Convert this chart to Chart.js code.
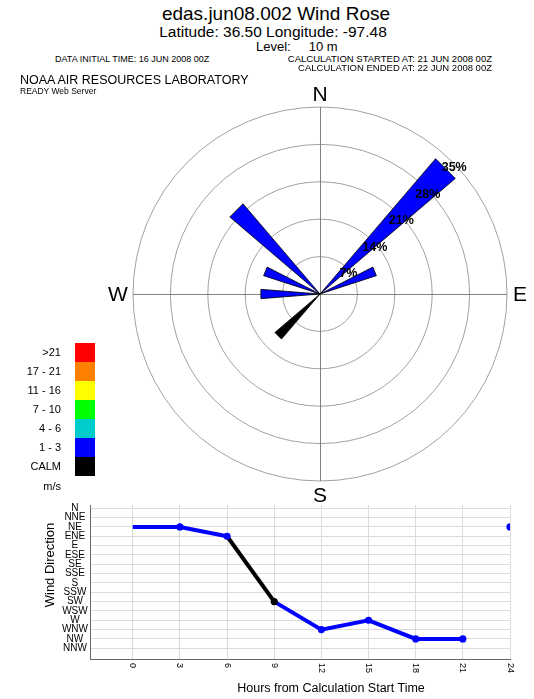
<!DOCTYPE html>
<html><head><meta charset="utf-8">
<script src="https://cdn.jsdelivr.net/npm/chart.js@4.4.1/dist/chart.umd.min.js"></script>
<style>
body{margin:0;width:534px;height:699px;position:relative;background:#fff;font-family:"Liberation Sans",Arial,sans-serif;overflow:hidden}
.t{position:absolute;white-space:pre;color:#000;line-height:1}
.c{transform:translate(-50%,-50%)}
.l{transform:translateY(-50%)}
canvas{position:absolute}
.box{position:absolute;left:75px;width:20px}
</style></head><body>
<canvas id="rose" width="534" height="450" style="left:0;top:70px"></canvas>
<canvas id="series" width="534" height="204" style="left:0;top:495px"></canvas>

<div class="t c" style="left:276px;top:13px;font-size:19px">edas.jun08.002 Wind Rose</div>
<div class="t c" style="left:273px;top:32px;font-size:15.5px">Latitude: 36.50 Longitude: -97.48</div>
<div class="t l" style="left:256px;top:46px;font-size:13px">Level:     10 m</div>
<div class="t l" style="left:55px;top:59px;font-size:9px">DATA INITIAL TIME: 16 JUN 2008 00Z</div>
<div class="t l" style="right:42px;top:59px;font-size:9.5px;text-align:right">CALCULATION STARTED AT: 21 JUN 2008 00Z</div>
<div class="t l" style="right:42px;top:68px;font-size:9.5px;text-align:right">CALCULATION ENDED AT: 22 JUN 2008 00Z</div>
<div class="t l" style="left:20px;top:80px;font-size:12.5px">NOAA AIR RESOURCES LABORATORY</div>
<div class="t l" style="left:20px;top:91px;font-size:8.5px">READY Web Server</div>

<div id="legend"></div>

<div class="t c" style="left:49px;top:565px;font-size:13px;transform:translate(-50%,-50%) rotate(-90deg)">Wind Direction</div>
<div class="t c" style="left:331px;top:688px;font-size:12.5px">Hours from Calculation Start Time</div>

<script>
// ---- data ----
const directions = ['N','NNE','NE','ENE','E','ESE','SE','SSE','S','SSW','SW','WSW','W','WNW','NW','NNW'];
const rosePercent = [0,0,33.3,11.1,0,0,0,0,0,0,11.1,0,11.1,11.1,22.2,0];
const roseClass = ['','','1 - 3','1 - 3','','','','','','','CALM','','1 - 3','1 - 3','1 - 3',''];
const speedClasses = ['>21','17 - 21','11 - 16','7 - 10','4 - 6','1 - 3','CALM'];
const speedColors = ['#ff0000','#ff8000','#ffff00','#00ff00','#00cccc','#0000ff','#000000'];
const speedUnit = 'm/s';
const ringTicks = [7,14,21,28,35];
const compass = ['N','E','S','W'];

const hours = [0,3,6,9,12,15,18,21];
const hourDirs = ['NE','NE','ENE','SW','WNW','W','NW','NW'];
const hourClass = ['1 - 3','1 - 3','1 - 3','CALM','1 - 3','1 - 3','1 - 3','1 - 3'];
const endHours = [24];
const endDirs = ['NE'];
const endClass = ['1 - 3'];
const hourTicks = [0,3,6,9,12,15,18,21,24];

const FONT = '"Liberation Sans", Arial, sans-serif';
const colorOf = c => speedColors[speedClasses.indexOf(c)];

// ---- legend ----
(function(){
  const lg = document.getElementById('legend');
  const top0 = 342.5, h = 19.05;
  speedClasses.forEach((c,i)=>{
    const b = document.createElement('div');
    b.className='box';
    b.style.top = (top0+i*h)+'px'; b.style.height = h+'px'; b.style.background = speedColors[i];
    lg.appendChild(b);
    const t = document.createElement('div');
    t.className='t l'; t.style.right='473px'; t.style.textAlign='right';
    t.style.top=(top0+i*h+h/2)+'px'; t.style.fontSize='11px'; t.textContent=c;
    lg.appendChild(t);
  });
  const u = document.createElement('div');
  u.className='t l'; u.style.right='473px'; u.style.top=(top0+7*h+10)+'px'; u.style.fontSize='11px'; u.textContent=speedUnit;
  lg.appendChild(u);
})();

// ---- wind rose (polar area) ----
const WEDGE = 9, GAP = 22.5 - WEDGE;
const polarValues = [], polarLabels = [];
directions.forEach((d,i)=>{ polarValues.push(rosePercent[i]); polarLabels.push(d); polarValues.push(0); polarLabels.push(''); });

const rosePlugin = {
  id:'roseDeco',
  beforeDatasetsDraw(chart){
    const s = chart.scales.r, ctx = chart.ctx;
    const R = s.drawingArea, xc = s.xCenter, yc = s.yCenter;
    ctx.save();
    ctx.strokeStyle = '#808080'; ctx.lineWidth = 1;
    ctx.beginPath();
    ctx.moveTo(xc+0.5, yc-R); ctx.lineTo(xc+0.5, yc+R);
    ctx.moveTo(xc-R, yc+0.5); ctx.lineTo(xc+R, yc+0.5);
    ctx.stroke();
    ctx.restore();
  },
  afterDatasetsDraw(chart){
    const s = chart.scales.r, ctx = chart.ctx;
    const R = s.drawingArea, xc = s.xCenter, yc = s.yCenter;
    ctx.save();
    ctx.fillStyle = '#000';
    ctx.textAlign = 'center'; ctx.textBaseline = 'middle';
    ctx.font = 'bold 12.5px ' + FONT;
    ringTicks.forEach(v=>{
      const d = s.getDistanceFromCenterForValue(v);
      ctx.fillText(v + '%', xc + d*Math.SQRT1_2 + 2, yc - d*Math.SQRT1_2 + 6);
    });
    ctx.font = '21px ' + FONT;
    const off = {N:[0,-R-13],E:[R+13,0],S:[0,R+14],W:[-R-15,0]};
    compass.forEach(c=>{ ctx.fillText(c, xc+off[c][0], yc+off[c][1]+1); });
    ctx.restore();
  }
};

new Chart(document.getElementById('rose'), {
  type:'polarArea',
  data:{ labels: polarLabels, datasets:[{
    data: polarValues,
    angle: ctx => ctx.dataIndex % 2 === 0 ? WEDGE : GAP,
    backgroundColor: ctx => ctx.dataIndex % 2 === 0 && rosePercent[ctx.dataIndex/2] > 0 ? colorOf(roseClass[ctx.dataIndex/2]) : 'rgba(0,0,0,0)',
    borderColor: '#000',
    borderWidth: ctx => ctx.dataIndex % 2 === 0 && rosePercent[ctx.dataIndex/2] > 0 ? 0.8 : 0,
    circular: false
  }]},
  options:{
    responsive:false, animation:false,
    layout:{ padding:{ left:133, right:27, top:37, bottom:39 } },
    plugins:{ legend:{display:false}, tooltip:{enabled:false} },
    scales:{ r:{
      min:0, max:35, startAngle: -WEDGE/2,
      ticks:{ display:false, stepSize:7 },
      grid:{ circular:true, color:'#a0a0a0', lineWidth:1 },
      angleLines:{ display:false },
      pointLabels:{ display:false }
    }}
  },
  plugins:[rosePlugin]
});

// ---- time series ----
const dirIndex = d => directions.indexOf(d);
const xLabelPlugin = {
  id:'xLabels',
  afterDraw(chart){
    const s = chart.scales.x, ctx = chart.ctx;
    ctx.save();
    ctx.fillStyle = '#000'; ctx.font = '9px ' + FONT;
    ctx.textAlign = 'left'; ctx.textBaseline = 'middle';
    hourTicks.forEach(v=>{
      ctx.save();
      ctx.translate(s.getPixelForValue(v), s.top + 4);
      ctx.rotate(Math.PI/2);
      ctx.fillText(String(v), 0, 0);
      ctx.restore();
    });
    ctx.restore();
  }
};

new Chart(document.getElementById('series'), {
  type:'line',
  data:{ datasets:[
    {
      data: hours.map((h,i)=>({x:h, y:dirIndex(hourDirs[i])})),
      borderColor:'#0000ff', borderWidth:4,
      segment:{ borderColor: ctx => colorOf(hourClass[ctx.p1DataIndex]) },
      pointRadius: ctx => ctx.dataIndex === 0 ? 0 : 3.6,
      pointBackgroundColor: ctx => colorOf(hourClass[ctx.dataIndex]),
      pointBorderWidth: 0,
      tension:0
    },
    {
      type:'scatter',
      data: endHours.map((h,i)=>({x:h, y:dirIndex(endDirs[i])})),
      pointRadius:3.6,
      pointBackgroundColor: endClass.map(colorOf),
      pointBorderWidth:0
    }
  ]},
  options:{
    responsive:false, animation:false,
    layout:{ padding:{ top:10, right:24, left:0, bottom:0 } },
    plugins:{ legend:{display:false}, tooltip:{enabled:false} },
    scales:{
      x:{ type:'linear', min:-2.72, max:24,
        afterBuildTicks: s => { s.ticks = hourTicks.map(v=>({value:v})); },
        afterFit: s => { s.height = 40; },
        ticks:{ display:false },
        grid:{ color:'#dcdcdc', drawTicks:false },
        border:{ color:'#666', width:1 }
      },
      y:{ type:'linear', reverse:true, min:-0.35, max:16.15,
        afterBuildTicks: s => { s.ticks = directions.map((_,i)=>({value:i})); },
        afterFit: s => { s.width = 90; },
        ticks:{ callback: v => directions[v], color:'#000', font:{ size:10, family:FONT }, crossAlign:'center', padding:2, autoSkip:false },
        grid:{ color:'#dcdcdc', drawTicks:false },
        border:{ color:'#666', width:1 }
      }
    }
  },
  plugins:[xLabelPlugin]
});
</script>
</body></html>
